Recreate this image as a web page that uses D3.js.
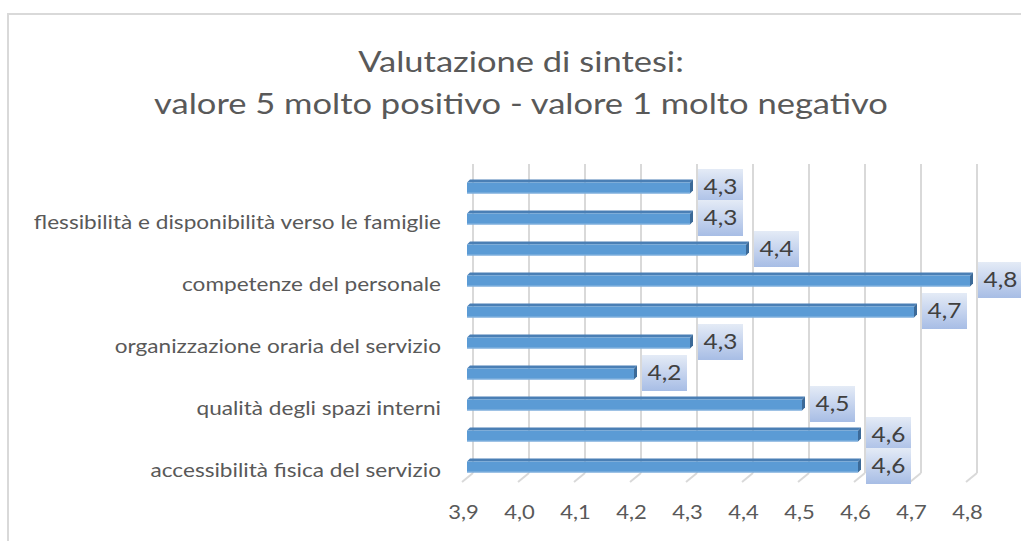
<html><head>
<script src="https://cdnjs.cloudflare.com/ajax/libs/d3/7.8.5/d3.min.js"></script>
<style>
  body { margin: 0; background: #fff; }
  svg { display: block; font-family: Lato, "Open Sans", sans-serif; }
</style>
</head>
<body>
<div id="chart"></div>
<script>
// categories from top to bottom (unlabelled rows in the original are null)
const categories = [
  null,
  "flessibilità e disponibilità verso le famiglie",
  null,
  "competenze del personale",
  null,
  "organizzazione oraria del servizio",
  null,
  "qualità degli spazi interni",
  null,
  "accessibilità fisica del servizio"
];
const values = [4.3, 4.3, 4.4, 4.8, 4.7, 4.3, 4.2, 4.5, 4.6, 4.6];
const xTicks = [3.9, 4.0, 4.1, 4.2, 4.3, 4.4, 4.5, 4.6, 4.7, 4.8];
const titleLines = ["Valutazione di sintesi:", "valore 5 molto positivo - valore 1 molto negativo"];

const W = 1021, H = 541;
const k = 1.19; // the original picture is stretched horizontally
const it = d3.formatLocale({decimal: ",", thousands: ".", grouping: [3], currency: ["", "€"]});
const fmt = it.format(".1f");

const svg = d3.select("#chart").append("svg")
  .attr("width", W).attr("height", H);

const defs = svg.append("defs");
const grad = defs.append("linearGradient").attr("id", "lbl")
  .attr("x1", 0).attr("y1", 0).attr("x2", 0).attr("y2", 1);
grad.append("stop").attr("offset", "0%").attr("stop-color", "#e4ebf6");
grad.append("stop").attr("offset", "50%").attr("stop-color", "#c6d4ee");
grad.append("stop").attr("offset", "100%").attr("stop-color", "#a7bde5");

// chart frame (only top and left edges visible)
svg.append("line").attr("x1", 7).attr("x2", W).attr("y1", 14).attr("y2", 14)
  .attr("stroke", "#d9d9d9").attr("stroke-width", 2);
svg.append("line").attr("x1", 8).attr("x2", 8).attr("y1", 14).attr("y2", H)
  .attr("stroke", "#d9d9d9").attr("stroke-width", 2);

// title
svg.append("g").attr("transform", "translate(521,0)")
  .selectAll("text").data(titleLines).join("text")
  .attr("y", (d, i) => 72 + i * 42)
  .attr("transform", `scale(${k},1)`)
  .attr("text-anchor", "middle")
  .attr("font-size", 29).attr("fill", "#595959")
  .text(d => d);

const x = d3.scaleLinear().domain([3.9, 4.8]).range([462, 966]);
const y = d3.scaleBand().domain(d3.range(values.length)).range([171.5, 481.5]).padding(0);
const dx = 11, dy = -9;       // depth of back wall
const bx = 3, by = -3;        // depth of bars
const barH = 11;

// back wall gridlines + floor ticks
const grid = svg.append("g");
grid.selectAll(".gl").data(xTicks).join("line")
  .attr("x1", d => x(d) + dx).attr("x2", d => x(d) + dx)
  .attr("y1", 164).attr("y2", 482 + dy)
  .attr("stroke", "#d9d9d9").attr("stroke-width", 2);
grid.selectAll(".fl").data(xTicks).join("line")
  .attr("x1", d => x(d)).attr("y1", 482)
  .attr("x2", d => x(d) + dx).attr("y2", 482 + dy)
  .attr("stroke", "#d9d9d9").attr("stroke-width", 2);

// x axis labels
const xAxis = svg.append("g").attr("transform", "translate(1,503)")
  .call(d3.axisBottom(x).tickValues(xTicks).tickFormat(fmt).tickSize(0));
xAxis.select(".domain").remove();
xAxis.selectAll("text").attr("font-size", 18.5).attr("fill", "#595959")
  .attr("font-family", "Lato, sans-serif").attr("transform", `scale(${k},1)`);

// y axis labels
const yAxis = svg.append("g").attr("transform", "translate(441,5)")
  .call(d3.axisLeft(y).tickValues(d3.range(values.length).filter(i => categories[i]))
    .tickFormat(i => categories[i]).tickSize(0).tickPadding(0));
yAxis.select(".domain").remove();
yAxis.selectAll("text").attr("font-size", 19).attr("fill", "#595959")
  .attr("font-family", "Lato, sans-serif").attr("transform", `scale(${k},1)`);

// 3D bars
const bars = svg.append("g").selectAll("g").data(values).join("g");
const cy = i => y(i) + y.bandwidth() / 2;
const x0 = x(3.9) + 5;
bars.each(function(v, i) {
  const g = d3.select(this);
  const yt = cy(i) - barH / 2 + 1, yb = yt + barH;
  const x1 = x(v) + 4;
  g.append("polygon")
    .attr("points", [[x0, yt], [x1, yt], [x1 + bx, yt + by], [x0 + bx, yt + by]].join(" "))
    .attr("fill", "#4a7fb5");
  g.append("polygon")
    .attr("points", [[x1, yt], [x1 + bx, yt + by], [x1 + bx, yb + by], [x1, yb]].join(" "))
    .attr("fill", "#3c6a98");
  g.append("rect").attr("x", x0).attr("y", yt).attr("width", x1 - x0).attr("height", barH)
    .attr("fill", "#5b9bd5");
  g.append("line").attr("x1", x0).attr("x2", x1).attr("y1", yb - 0.5).attr("y2", yb - 0.5)
    .attr("stroke", "#8fb8e0").attr("stroke-width", 1);
});

// data labels
const labels = svg.append("g").selectAll("g").data(values).join("g")
  .attr("transform", (v, i) => `translate(${x(v) + 12},${cy(i) - 18})`);
labels.append("rect").attr("width", 45).attr("height", 36).attr("fill", "url(#lbl)");
labels.append("text").attr("x", 22.5 / k).attr("y", 25.5)
  .attr("transform", `scale(${k},1)`)
  .attr("text-anchor", "middle").attr("font-size", 20.5).attr("fill", "#404040")
  .text(v => fmt(v));
</script>
</body></html>
